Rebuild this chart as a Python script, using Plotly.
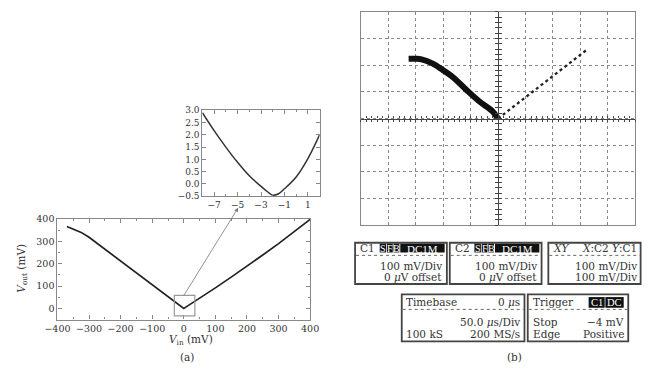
import plotly.graph_objects as go

W, H = 653, 370
FONT = "DejaVu Serif"

# ---------------- data ----------------
# (a) main transfer curve
vin = [-370, -350, -325, -300, -250, -200, -150, -100, -50, -20, -10, 0,
       10, 20, 50, 100, 150, 200, 250, 300, 350, 400]
vout = [366, 356, 340, 318, 265, 211, 158, 105, 53, 21, 10, 0,
        9, 18, 45, 92, 140, 188, 239, 290, 343, 398]
main_xticks = [-400, -300, -200, -100, 0, 100, 200, 300, 400]
main_yticks = [0, 100, 200, 300, 400]

# (a) inset (zoom near the minimum)
ins_x = [-8, -7, -6, -5, -4, -3, -2.5, -2, -1.5, -1, 0, 1, 2]
ins_y = [2.9, 2.17, 1.5, 0.88, 0.33, -0.1, -0.3, -0.46, -0.4, -0.2, 0.28, 1.03, 2.0]
ins_xticks = [-7, -5, -3, -1, 1]
ins_yticks = [-0.5, 0.0, 0.5, 1.0, 1.5, 2.0, 2.5, 3.0]
zoom_box_x = [-30, 35]
zoom_box_y = [-33, 58]

# (b) oscilloscope XY trace (mV)
sc_left_x = [-326, -300, -279, -238, -197, -162, -115, -68, -21, 0]
sc_left_y = [224, 224, 222, 206, 179, 153, 107, 64, 28, 0]
sc_right_x = [0, 321]
sc_right_y = [0, 256]

# ---------------- helpers ----------------
def PX(x):
    return x / W

def PY(y):
    return 1 - y / H

fig = go.Figure()

fig.add_trace(go.Scatter(x=vin, y=vout, mode="lines", xaxis="x", yaxis="y",
                         line=dict(color="#222", width=1.7), showlegend=False))
fig.add_trace(go.Scatter(x=ins_x, y=ins_y, mode="lines", xaxis="x2", yaxis="y2",
                         line=dict(color="#333", width=1.5, shape="spline"), showlegend=False))
fig.add_trace(go.Scatter(x=sc_left_x, y=sc_left_y, mode="lines", xaxis="x3", yaxis="y3",
                         line=dict(color="#111", width=6, shape="spline"), showlegend=False))
fig.add_trace(go.Scatter(x=sc_right_x, y=sc_right_y, mode="lines", xaxis="x3", yaxis="y3",
                         line=dict(color="#222", width=2.3, dash="dot"), showlegend=False))
for xa, ya in [("x4", "y3"), ("x5", "y3"), ("x3", "y4"), ("x3", "y5")]:
    fig.add_trace(go.Scatter(x=[], y=[], xaxis=xa, yaxis=ya, showlegend=False, hoverinfo="skip"))

tickfont = dict(family=FONT, size=9.5, color="#333")
frame = dict(showline=True, linecolor="#888", linewidth=1.2, mirror="ticks",
             ticks="inside", tickcolor="#888", ticklen=4, showgrid=False, zeroline=False)

layout = dict(
    width=W, height=H, margin=dict(l=0, r=0, t=0, b=0),
    paper_bgcolor="white", plot_bgcolor="white",
    font=dict(family=FONT, color="#333"),
    xaxis=dict(domain=[PX(46), PX(307.5)], range=[-400, 400], tickvals=main_xticks,
               anchor="y", tickfont=tickfont,
               minor=dict(dtick=50, ticks="inside", ticklen=2, tickcolor="#888"), **frame),
    yaxis=dict(domain=[PY(323.2), PY(219.5)], range=[-50, 400], tickvals=main_yticks,
               anchor="x", tickfont=tickfont,
               minor=dict(dtick=50, ticks="inside", ticklen=2, tickcolor="#888"), **frame),
    xaxis2=dict(domain=[PX(196), PX(317.3)], range=[-8, 2], tickvals=ins_xticks,
                anchor="y2", tickfont=dict(family=FONT, size=9, color="#333"),
                minor=dict(dtick=1, ticks="inside", ticklen=2, tickcolor="#888"), **frame),
    yaxis2=dict(domain=[PY(196), PY(107.5)], range=[-0.5, 3.0], tickvals=ins_yticks,
                tickformat=".1f", anchor="x2", tickfont=dict(family=FONT, size=9, color="#333"),
                **frame),
    xaxis3=dict(domain=[PX(360), PX(644)], range=[-500, 500], dtick=100, tick0=0,
                anchor="y3", showticklabels=False, ticks="", showline=True, mirror=True,
                linecolor="#888", linewidth=1.2, showgrid=True, gridcolor="#888",
                griddash="dot", gridwidth=1, zeroline=False),
    yaxis3=dict(domain=[PY(226), PY(6)], range=[-400, 400], dtick=100, tick0=0,
                anchor="x3", showticklabels=False, ticks="", showline=True, mirror=True,
                linecolor="#888", linewidth=1.2, showgrid=True, gridcolor="#888",
                griddash="dot", gridwidth=1, zeroline=False),
)

centre_x = PY(6) - (PY(6) - PY(226)) / 2
centre_y = PX(360) + (PX(644) - PX(360)) / 2
for name, side in [("xaxis4", "outside"), ("xaxis5", "inside")]:
    layout[name] = dict(overlaying="x3", anchor="free", position=centre_x,
                        range=[-500, 500], dtick=20, tick0=0, ticks=side, ticklen=2.5,
                        tickcolor="#444", showline=True, linecolor="#444", linewidth=1.2,
                        showticklabels=False, showgrid=False, zeroline=False)
for name, side in [("yaxis4", "outside"), ("yaxis5", "inside")]:
    layout[name] = dict(overlaying="y3", anchor="free", position=centre_y,
                        range=[-400, 400], dtick=20, tick0=0, ticks=side, ticklen=2.5,
                        tickcolor="#444", showline=True, linecolor="#444", linewidth=1.2,
                        showticklabels=False, showgrid=False, zeroline=False)
fig.update_layout(**layout)

shapes = []
annotations = []

shapes.append(dict(type="rect", xref="x", yref="y", x0=zoom_box_x[0], x1=zoom_box_x[1],
                   y0=zoom_box_y[0], y1=zoom_box_y[1], line=dict(color="#999", width=1.2)))
annotations.append(dict(xref="paper", yref="paper", x=PX(233), y=PY(208), ax=177.5 - 233,
                        ay=297.5 - 208, axref="pixel", ayref="pixel", showarrow=True,
                        arrowhead=2, arrowsize=1, arrowwidth=0.8, arrowcolor="#777", text=""))

def txt(x, y, s, anchor="left", size=10.5, color="#333", family=FONT, **kw):
    annotations.append(dict(xref="paper", yref="paper", x=PX(x), y=PY(y), text=s,
                            xanchor=anchor, yanchor="middle", showarrow=False,
                            font=dict(family=family, size=size, color=color), **kw))

def blk(x0, x1, y0, y1, s, size=10):
    shapes.append(dict(type="rect", xref="paper", yref="paper", x0=PX(x0), x1=PX(x1),
                       y0=PY(y1), y1=PY(y0), fillcolor="#111", line=dict(width=0)))
    txt((x0 + x1) / 2, (y0 + y1) / 2 + 0.5, s, anchor="center", size=size, color="white",
        family="Liberation Serif")

def box(x0, x1, y0, y1, ysep):
    shapes.append(dict(type="rect", xref="paper", yref="paper", x0=PX(x0), x1=PX(x1),
                       y0=PY(y1), y1=PY(y0), line=dict(color="#444", width=1.8)))
    shapes.append(dict(type="line", xref="paper", yref="paper", x0=PX(x0 + 1), x1=PX(x1 - 1),
                       y0=PY(ysep), y1=PY(ysep), line=dict(color="#666", width=1, dash="dot")))

txt(9, 270, "<i>V</i><sub>out</sub> (mV)", anchor="center", size=10.5, textangle=-90)
txt(184, 344.5, "<i>V</i><sub>in</sub> (mV)", anchor="center", size=10.5)
txt(180, 361.5, "(a)", anchor="center", size=10.5)
txt(519, 362, "(b)", anchor="center", size=10.5)

for dx, ch in [(0, "C1"), (98, "C2")]:
    box(354 + dx, 449 + dx, 244, 286.5, 257)
    txt(357 + dx, 249.5, ch)
    blk(379.5 + dx, 386.2 + dx, 245, 254, "S")
    blk(387 + dx, 393 + dx, 245, 254, "F")
    blk(393.8 + dx, 399.8 + dx, 245, 254, "B")
    blk(400.8 + dx, 446.7 + dx, 245, 254, "DC1M", size=11)
    txt(446.5 + dx, 268, "100 mV/Div", anchor="right")
    txt(446.5 + dx, 279, "0 <i>μ</i>V offset", anchor="right")
box(554, 649.5, 244, 286.5, 257)
txt(557, 249.5, "<i>XY</i>")
txt(647.5, 249.5, "<i>X</i>:C2 <i>Y</i>:C1", anchor="right")
txt(647.5, 268, "100 mV/Div", anchor="right")
txt(647.5, 279, "100 mV/Div", anchor="right")

box(402.3, 529.3, 297.3, 345.7, 312.7)
txt(405, 305.5, "Timebase")
txt(527, 305.5, "0 <i>μ</i>s", anchor="right")
txt(527, 325.5, "50.0 <i>μ</i>s/Div", anchor="right")
txt(405, 338, "100 kS")
txt(527, 338, "200 MS/s", anchor="right")
box(532.7, 636.7, 297.3, 345.7, 312.7)
txt(536, 305.5, "Trigger")
blk(595.7, 612.3, 300, 311, "C1", size=10.5)
blk(613, 632, 300, 311, "DC", size=10.5)
txt(536, 325.5, "Stop")
txt(634.5, 325.5, "−4 mV", anchor="right")
txt(536, 338, "Edge")
txt(634.5, 338, "Positive", anchor="right")

fig.update_layout(shapes=shapes, annotations=annotations)
fig.write_html("out.html")
